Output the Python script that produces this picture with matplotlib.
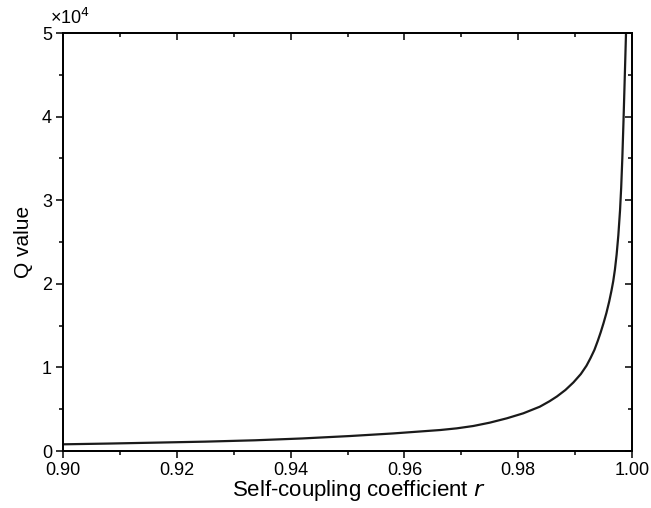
import numpy as np
from matplotlib import pyplot as plt
from matplotlib.ticker import MultipleLocator, FuncFormatter

plt.rcParams['font.family'] = ['Liberation Sans', 'DejaVu Sans']

# values
r_vals = [0.900, 0.9080, 0.9162, 0.9250, 0.9337, 0.9420, 0.9504, 0.9580,
          0.9663, 0.9692, 0.9721, 0.9750, 0.9780, 0.9809, 0.9838, 0.9855,
          0.9868, 0.9883, 0.9897, 0.9910, 0.9920, 0.9927, 0.9934, 0.9940,
          0.9945, 0.9950, 0.9955, 0.9960, 0.9964, 0.9967, 0.9970, 0.9973,
          0.9976, 0.9979, 0.9981, 0.9983, 0.9985, 0.9987, 0.99895, 0.9991]
q_vals = [800, 890, 1000, 1120, 1280, 1500, 1790, 2100,
          2510, 2710, 2990, 3390, 3910, 4510, 5300, 5950,
          6520, 7300, 8200, 9200, 10200, 11100, 12100, 13200,
          14200, 15300, 16500, 17900, 19200, 20300, 21700, 23500,
          25800, 28800, 31500, 35000, 39300, 44000, 50000, 54000]

x_label = "Self-coupling coefficient $\\mathit{r}$"
y_label = "Q value"


def main():
    fig = plt.figure(figsize=(6.51, 5.08), dpi=100)
    ax = fig.add_axes([0.0968, 0.1122, 0.874, 0.8228])

    ax.plot(r_vals, q_vals, color='#1a1a1a', lw=1.6, solid_joinstyle='round')
    ax.set_xlim(0.90, 1.00)
    ax.set_ylim(0, 5e4)

    ax.xaxis.set_major_locator(MultipleLocator(0.02))
    ax.xaxis.set_minor_locator(MultipleLocator(0.01))
    ax.yaxis.set_major_locator(MultipleLocator(1e4))
    ax.yaxis.set_minor_locator(MultipleLocator(5e3))
    ax.xaxis.set_major_formatter(FuncFormatter(lambda v, p: f"{v:.2f}"))
    ax.yaxis.set_major_formatter(FuncFormatter(lambda v, p: f"{v/1e4:.0f}"))

    ax.tick_params(which='major', direction='out', length=5, width=1.1,
                   labelsize=13, pad=3)
    ax.tick_params(which='minor', direction='out', length=3, width=1.1)

    # top and right ticks point inwards
    axt = ax.twiny()
    axt.set_xlim(ax.get_xlim())
    axt.xaxis.set_major_locator(MultipleLocator(0.02))
    axt.xaxis.set_minor_locator(MultipleLocator(0.01))
    axt.tick_params(which='major', direction='in', length=5, width=1.1, labeltop=False)
    axt.tick_params(which='minor', direction='in', length=3, width=1.1)
    axr = ax.twinx()
    axr.set_ylim(ax.get_ylim())
    axr.yaxis.set_major_locator(MultipleLocator(1e4))
    axr.yaxis.set_minor_locator(MultipleLocator(5e3))
    axr.tick_params(which='major', direction='in', length=5, width=1.1, labelright=False)
    axr.tick_params(which='minor', direction='in', length=3, width=1.1)

    for a in (ax, axt, axr):
        for s in a.spines.values():
            s.set_linewidth(1.1)

    ax.set_xlabel(x_label, fontsize=16, labelpad=1)
    ax.xaxis.set_label_coords(0.52, -0.065)
    ax.set_ylabel(y_label, fontsize=15, labelpad=6)
    ax.text(-0.023, 1.012, "\u00d710$^4$", transform=ax.transAxes,
            fontsize=13, ha='left', va='bottom')

    fig.savefig("out.png", dpi=100)
    plt.close(fig)


if __name__ == "__main__":
    main()
